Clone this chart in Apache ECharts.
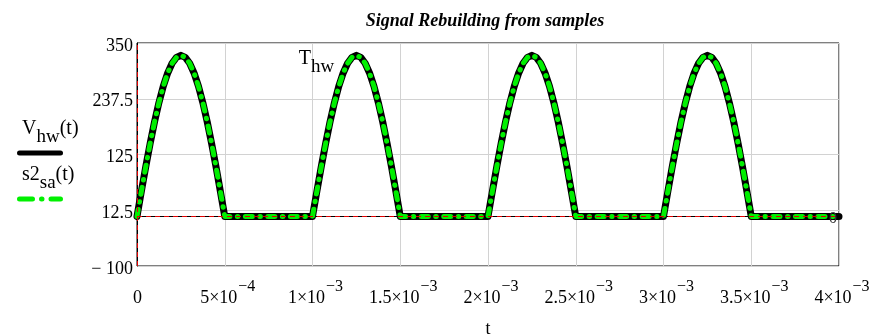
<!DOCTYPE html>
<html><head><meta charset="utf-8">
<script src="https://cdn.jsdelivr.net/npm/echarts@6/dist/echarts.min.js"></script>
<style>html,body{margin:0;padding:0;background:#fff}#c{width:877px;height:335px}</style>
</head><body><div id="c"></div>
<script>
// ---- data ----
const chartTitle = 'Signal Rebuilding from samples';
const sampleTimes = [
  0, 2.5e-5, 5e-5, 7.5e-5, 1e-4, 1.25e-4, 1.5e-4, 1.75e-4, 2e-4, 2.25e-4, 2.5e-4, 2.75e-4, 3e-4, 3.25e-4, 3.5e-4, 3.75e-4, 4e-4, 4.25e-4, 4.5e-4, 4.75e-4, 5e-4,
  1e-3, 1.025e-3, 1.05e-3, 1.075e-3, 1.1e-3, 1.125e-3, 1.15e-3, 1.175e-3, 1.2e-3, 1.225e-3, 1.25e-3, 1.275e-3, 1.3e-3, 1.325e-3, 1.35e-3, 1.375e-3, 1.4e-3, 1.425e-3, 1.45e-3, 1.475e-3, 1.5e-3,
  2e-3, 2.025e-3, 2.05e-3, 2.075e-3, 2.1e-3, 2.125e-3, 2.15e-3, 2.175e-3, 2.2e-3, 2.225e-3, 2.25e-3, 2.275e-3, 2.3e-3, 2.325e-3, 2.35e-3, 2.375e-3, 2.4e-3, 2.425e-3, 2.45e-3, 2.475e-3, 2.5e-3,
  3e-3, 3.025e-3, 3.05e-3, 3.075e-3, 3.1e-3, 3.125e-3, 3.15e-3, 3.175e-3, 3.2e-3, 3.225e-3, 3.25e-3, 3.275e-3, 3.3e-3, 3.325e-3, 3.35e-3, 3.375e-3, 3.4e-3, 3.425e-3, 3.45e-3, 3.475e-3, 3.5e-3,
  4e-3
];
const vhwValues = [
  0, 50.8, 100.4, 147.5, 191.0, 229.8, 262.9, 289.6, 309.1, 321.0, 325.0, 321.0, 309.1, 289.6, 262.9, 229.8, 191.0, 147.5, 100.4, 50.8, 0,
  0, 50.8, 100.4, 147.5, 191.0, 229.8, 262.9, 289.6, 309.1, 321.0, 325.0, 321.0, 309.1, 289.6, 262.9, 229.8, 191.0, 147.5, 100.4, 50.8, 0,
  0, 50.8, 100.4, 147.5, 191.0, 229.8, 262.9, 289.6, 309.1, 321.0, 325.0, 321.0, 309.1, 289.6, 262.9, 229.8, 191.0, 147.5, 100.4, 50.8, 0,
  0, 50.8, 100.4, 147.5, 191.0, 229.8, 262.9, 289.6, 309.1, 321.0, 325.0, 321.0, 309.1, 289.6, 262.9, 229.8, 191.0, 147.5, 100.4, 50.8, 0,
  0
];
const s2saValues = [
  0, 50.8, 100.4, 147.5, 191.0, 229.8, 262.9, 289.6, 309.1, 321.0, 325.0, 321.0, 309.1, 289.6, 262.9, 229.8, 191.0, 147.5, 100.4, 50.8, 0,
  0, 50.8, 100.4, 147.5, 191.0, 229.8, 262.9, 289.6, 309.1, 321.0, 325.0, 321.0, 309.1, 289.6, 262.9, 229.8, 191.0, 147.5, 100.4, 50.8, 0,
  0, 50.8, 100.4, 147.5, 191.0, 229.8, 262.9, 289.6, 309.1, 321.0, 325.0, 321.0, 309.1, 289.6, 262.9, 229.8, 191.0, 147.5, 100.4, 50.8, 0,
  0, 50.8, 100.4, 147.5, 191.0, 229.8, 262.9, 289.6, 309.1, 321.0, 325.0, 321.0, 309.1, 289.6, 262.9, 229.8, 191.0, 147.5, 100.4, 50.8, 0,
  0
];
const tHw = 1e-3;        // vertical marker
const zeroLevel = 0;     // horizontal marker
const xMantissas = ['0', '5', '1', '1.5', '2', '2.5', '3', '3.5', '4'];
const xExponents = ['', '−4', '−3', '−3', '−3', '−3', '−3', '−3', '−3'];
const yTickLabels = ['− 100', '12.5', '125', '237.5', '350'];

// ---- chart ----
const FONT = 'Liberation Serif';
const GREEN = '#00f000';
const chart = echarts.init(document.getElementById('c'), null, {renderer: 'canvas'});
const zip = (a, b) => a.map((x, i) => [x, b[i]]);

const option = {
  animation: false,
  backgroundColor: '#fff',
  grid: {left: 137, right: 38, top: 43, bottom: 69, containLabel: false, outerBoundsMode: 'none',
         show: true, borderColor: '#000', borderWidth: 1, backgroundColor: 'transparent'},
  xAxis: {
    type: 'value', min: 0, max: 0.004, interval: 0.0005,
    name: 't', nameLocation: 'middle', nameGap: 54,
    nameTextStyle: {fontFamily: FONT, fontSize: 18, color: '#000'},
    axisLine: {show: true, lineStyle: {color: '#000', width: 1}},
    axisTick: {show: false},
    splitLine: {show: true, lineStyle: {color: '#d2d2d2', width: 1}},
    axisLabel: {
      margin: 13,
      formatter: (v, i) => '{m|' + (xMantissas[i] === '0' ? '0' : xMantissas[i] + '×10') + '}{s|' + (xExponents[i] || ' ') + '}',
      padding: [0, 0, 0, 6],
      rich: {
        m: {fontFamily: FONT, fontSize: 18, lineHeight: 28, color: '#000', verticalAlign: 'bottom'},
        s: {fontFamily: FONT, fontSize: 16, lineHeight: 12, color: '#000', verticalAlign: 'top', padding: [0, 0, 0, 1]}
      }
    }
  },
  yAxis: {
    type: 'value', min: -100, max: 350, interval: 112.5,
    axisLine: {show: true, lineStyle: {color: '#000', width: 1}},
    axisTick: {show: false},
    splitLine: {show: true, lineStyle: {color: '#d2d2d2', width: 1}},
    axisLabel: {
      margin: 4,
      formatter: (v, i) => yTickLabels[i],
      fontFamily: FONT, fontSize: 18, color: '#000',
      verticalAlign: 'top', lineHeight: 6
    }
  },
  series: [
    {
      type: 'line', name: 'markers', data: [], z: 1, silent: true,
      markLine: {
        silent: true, symbol: 'none', animation: false,
        label: {show: false},
        lineStyle: {color: '#e00000', type: [5, 4], width: 1},
        data: [{xAxis: tHw}, {yAxis: zeroLevel}]
      }
    },
    {
      type: 'line', name: 'V_hw(t)', data: zip(sampleTimes, vhwValues), showSymbol: false, z: 3,
      lineStyle: {color: '#000', width: 7, cap: 'round', join: 'round'}
    },
    {
      type: 'line', name: 's2_sa(t)', data: zip(sampleTimes, s2saValues), showSymbol: false, z: 4,
      lineStyle: {color: GREEN, width: 5, type: [7, 7.5, 0.5, 7.5], cap: 'round', join: 'round'}
    }
  ]
};
chart.setOption(option);

const pTop = chart.convertToPixel({gridIndex: 0}, [tHw, 350]);
const pZero = chart.convertToPixel({gridIndex: 0}, [0.004, zeroLevel]);
const subRich = {
  n: {fontFamily: FONT, fontSize: 20, lineHeight: 28, fill: '#000', verticalAlign: 'top'},
  b: {fontFamily: FONT, fontSize: 19, lineHeight: 10, fill: '#000', verticalAlign: 'bottom'}
};
chart.setOption({
  graphic: [
    {type: 'text', x: 485, y: 21, z: 10, style: {text: chartTitle, fontFamily: FONT, fontSize: 18, fontStyle: 'italic', fontWeight: 'bold', fill: '#000', align: 'center', verticalAlign: 'middle'}},
    {type: 'text', x: pTop[0] + 4, y: pTop[1] + 6, z: 10, style: {text: '{n|T}{b|hw}', rich: subRich, align: 'center', verticalAlign: 'top'}},
    {type: 'text', x: pZero[0] - 6, y: pZero[1] + 2.5, z: 10, style: {text: '0', fontFamily: FONT, fontSize: 16, fill: '#333', align: 'center', verticalAlign: 'middle'}},
    {type: 'text', x: 22, y: 119, style: {text: '{n|V}{b|hw}{n|(t)}', rich: subRich}},
    {type: 'line', shape: {x1: 19.5, y1: 153, x2: 60.5, y2: 153}, style: {stroke: '#000', lineWidth: 5, lineCap: 'round'}},
    {type: 'text', x: 22, y: 164.5, style: {text: '{n|s2}{b|sa}{n|(t)}', rich: subRich}},
    {type: 'line', shape: {x1: 19.5, y1: 199, x2: 60.5, y2: 199}, style: {stroke: GREEN, lineWidth: 5, lineCap: 'round', lineDash: [13, 9, 0.5, 9]}}
  ]
});
</script>
</body></html>
